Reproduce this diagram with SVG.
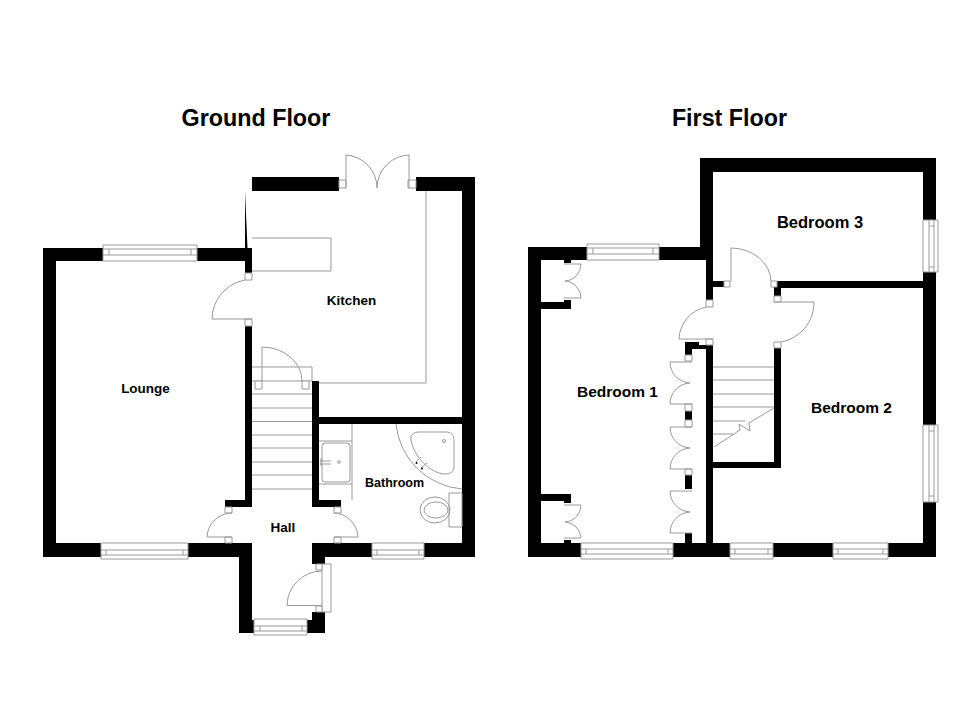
<svg xmlns="http://www.w3.org/2000/svg" width="980" height="712" viewBox="0 0 980 712">
<style>
.w{fill:#000;stroke:none}
.l{fill:none;stroke:#9a9a9a;stroke-width:1}
.f{fill:#fff;stroke:#9a9a9a;stroke-width:1}
.t{font-family:"Liberation Sans",Arial,sans-serif;font-weight:bold;fill:#000;text-anchor:middle}
.h{font-size:23.300px}
.r{font-size:13.500px}
.b{font-size:15.500px}
</style>
<rect width="980" height="712" fill="#fff"/>
<g id="ground-floor">
<g id="ground-walls">
<path class="w" d="M43 248H103V261H56V543H101V557H43Z"/>
<path class="w" d="M197 248H252V273H245V261H197Z"/>
<path class="w" d="M245 191L247.500 248H245Z"/>
<path class="w" d="M245 326H252V507H225V500H245Z"/>
<path class="w" d="M252 177H339V191H252Z"/>
<path class="w" d="M416 177H475V557H424V543H462V191H416Z"/>
<path class="w" d="M312 381H319V417H462V424H319V500H341V507H312Z"/>
<path class="w" d="M188 543H252V620H254V633H239V557H188Z"/>
<path class="w" d="M312 543H372V557H325V564H312Z"/>
<path class="w" d="M312 612H325V633H307V620H312Z"/>
</g>
<g id="ground-windows">
<path class="f" d="M103 245H197V261H103Z"/><path class="l" d="M103 249H197M103 255H197M109 249V255M191 249V255"/>
<path class="f" d="M101 543H188V559H101Z"/><path class="l" d="M101 550H188M101 555H188M106 550V555M183 550V555"/>
<path class="f" d="M372 543H424V559H372Z"/><path class="l" d="M372 550H424M372 555H424M377 550V555M419 550V555"/>
<path class="f" d="M254 619H307V635H254Z"/><path class="l" d="M254 626H307M254 631H307M260 626V631M302 626V631"/>
</g>
<g id="ground-doors">
<path class="f" d="M245 273H252V280H245ZM245 319H252V326H245Z"/>
<path class="l" d="M252 319H212A40 40 0 0 1 245 280"/>
<path class="f" d="M339 180H346V188H339ZM408 180H416V188H408Z"/>
<path class="l" d="M346 188V155A33 33 0 0 1 377 188M409 188V155A33 33 0 0 0 377 188"/>
<path class="f" d="M225 507H232V513H225ZM225 537H232V543H225ZM334 507H341V513H334ZM334 537H341V543H334Z"/>
<path class="l" d="M232 537H207A25 25 0 0 1 232 513M334 537H358A25 25 0 0 0 334 513"/>
<path class="f" d="M322 564H331V612H322Z"/>
<path class="f" d="M316 564H322V570H316ZM316 606H322V612H316Z"/>
<path class="l" d="M322 605.500H287A35 35 0 0 1 322 571"/>
</g>
<g id="ground-fittings">
<path class="l" d="M426 191V383H319"/>
<path class="l" d="M252 238H331V271H252"/>
<path class="l" d="M252 367H312V381M252 381H312M252 394H312M252 408H312M252 421.500H312M252 435H312M252 448H312M252 462H312M252 475H312M252 489H312"/>
<path class="f" d="M255 381H262V389H255ZM302 381H309V389H302Z"/>
<path class="l" d="M262 381V347A40 34 0 0 1 302 381"/>
<path class="l" d="M319 441H352M319 484H352M352 424V500"/>
<rect class="l" x="322" y="443" width="28" height="39" rx="3"/>
<path class="l" d="M320 461H331M320 464H331M321 458V466"/>
<circle class="l" cx="339" cy="462" r="1.300"/>
<path class="l" d="M396 424A72 72 0 0 0 462 489"/>
<path class="l" d="M411 440C410 435 414 432 419 432H446C451 432 454 435 454 440V467C454 472 450 474 445 474C432 474 414 458 411 440Z"/>
<circle class="l" cx="444" cy="441" r="1.500"/>
<path class="l" d="M416 462L421 457M421 468L427 463"/>
<circle cx="416.500" cy="463" r="1" fill="#000"/><circle cx="422" cy="468.500" r="1" fill="#000"/>
<path class="l" d="M449 493H462V527H449Z"/>
<ellipse class="l" cx="435" cy="510" rx="15" ry="13"/>
<ellipse class="l" cx="436" cy="510" rx="12" ry="8"/>
</g>
</g>
<g id="first-floor">
<g id="first-walls">
<path class="w" d="M528 247H587V260H541V302H571V309H541V494H571V503H564V501H541V543H581V557H528Z"/>
<path class="w" d="M564 260H571V263H564ZM564 300H571V302H564ZM564 540H571V543H564Z"/>
<path class="w" d="M658 247H700V158H936V220H923V172H713V281H724V287H713V300H706V260H658Z"/>
<path class="w" d="M923 272H936V425H923V288H777V281H923Z"/>
<path class="w" d="M774 287H781V296H774Z"/>
<path class="w" d="M923 502H936V557H888V543H923Z"/>
<path class="w" d="M773 543H833V557H773Z"/>
<path class="w" d="M673 543H706V345H713V462H774V348H781V468H713V543H730V557H673Z"/>
<path class="w" d="M685 342H699V345H706V349H692V355H685Z"/>
<path class="w" d="M685 411H692V420H685ZM685 475H692V489H685ZM685 533H692V543H685Z"/>
</g>
<g id="first-windows">
<path class="f" d="M587 244H659V260H587Z"/><path class="l" d="M587 248H659M587 254H659M593 248V254M653 248V254"/>
<path class="f" d="M581 543H673V559H581Z"/><path class="l" d="M581 549H673M581 554H673M586 549V554M668 549V554"/>
<path class="f" d="M730 543H773V559H730Z"/><path class="l" d="M730 549H773M730 554H773M735 549V554M768 549V554"/>
<path class="f" d="M833 543H888V559H833Z"/><path class="l" d="M833 549H888M833 554H888M838 549V554M883 549V554"/>
<path class="f" d="M923 220H938V272H923Z"/><path class="l" d="M929 220V272M934 220V272M929 226H934M929 267H934"/>
<path class="f" d="M923 425H938V502H923Z"/><path class="l" d="M929 425V502M934 425V502M929 431H934M929 496H934"/>
</g>
<g id="first-doors">
<path class="f" d="M706 300H713V307H706ZM706 339H713V345H706Z"/>
<path class="l" d="M713 339H679A34 34 0 0 1 706 307"/>
<path class="f" d="M774 296H781V302H774ZM774 342H781V348H774Z"/>
<path class="l" d="M774 302H814A40 40 0 0 1 781 342"/>
<path class="f" d="M724 281H730V287H724ZM771 281H777V287H771Z"/>
<path class="l" d="M731 281V248A40 34 0 0 1 771 281"/>
<path class="f" d="M685 355H692V361H685ZM685 404H692V411H685ZM685 420H692V427H685ZM685 469H692V475H685Z"/>
<path class="l" d="M692 362H670A21 21 0 0 0 690 383A21 21 0 0 0 670 404H692"/>
<path class="l" d="M692 427H670A21 21 0 0 0 690 448A21 21 0 0 0 670 469H692"/>
<path class="l" d="M692 491H670A21 21 0 0 0 690 512A21 21 0 0 0 670 533H692"/>
<path class="l" d="M564 264H581A17 17 0 0 1 565 281A17 17 0 0 1 581 298H564"/>
<path class="l" d="M564 505H581A17 17 0 0 1 565 522A17 17 0 0 1 581 538H564"/>
</g>
<g id="first-stairs">
<path class="l" d="M713 367H774M713 380H774M713 394H774M713 407H774M713 421H745M713 434H733"/>
<path class="l" d="M774 408L749 423L750 431L739 424L740 430L714 447"/>
</g>
</g>
<g id="labels">
<text class="t h" x="256" y="126">Ground Floor</text>
<text class="t h" x="729.500" y="126">First Floor</text>
<text class="t r" x="145.500" y="393">Lounge</text>
<text class="t r" x="351.500" y="305">Kitchen</text>
<text class="t" style="font-size:12.500px" x="394.500" y="487">Bathroom</text>
<text class="t r" x="283" y="532">Hall</text>
<text class="t b" x="617.500" y="397">Bedroom 1</text>
<text class="t b" x="851.500" y="413">Bedroom 2</text>
<text class="t" style="font-size:16.500px" x="820" y="228">Bedroom 3</text>
</g>
</svg>
